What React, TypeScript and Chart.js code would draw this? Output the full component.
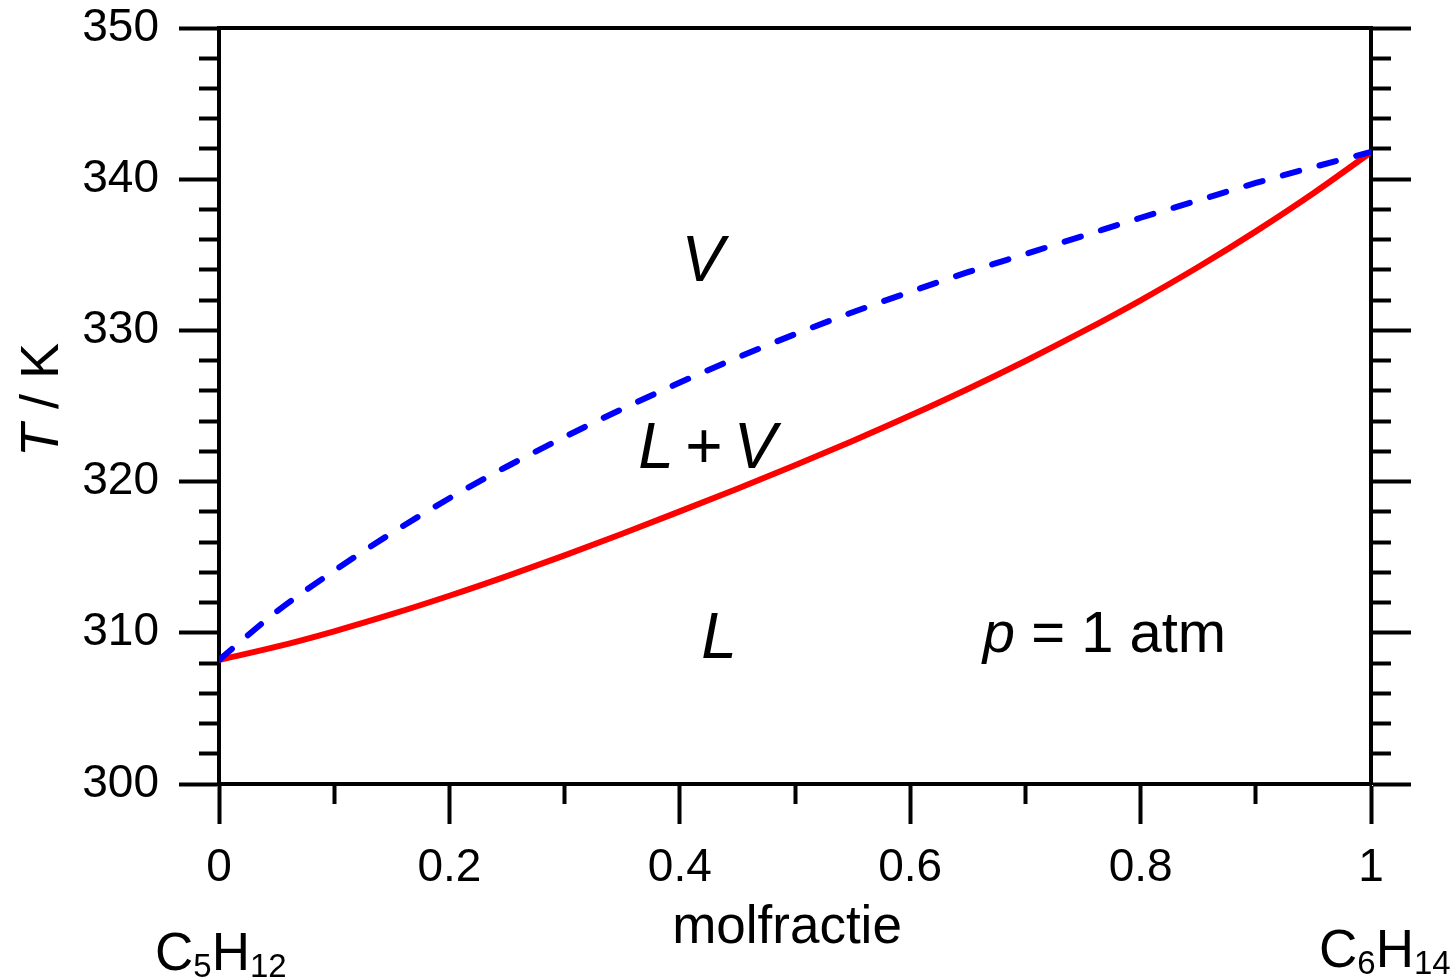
import React, { useEffect, useRef } from "react";
import { Chart, registerables } from "chart.js";

Chart.register(...registerables);

// ---- data ----
const molFraction = [0, 0.05, 0.1, 0.15, 0.2, 0.25, 0.3, 0.35, 0.4, 0.45, 0.5, 0.55, 0.6, 0.65, 0.7, 0.75, 0.8, 0.85, 0.9, 0.95, 1];
const liquidT = [308.2, 309.08, 310.1, 311.23, 312.45, 313.75, 315.12, 316.55, 318.03, 319.53, 321.08, 322.69, 324.37, 326.13, 327.98, 329.93, 331.99, 334.19, 336.55, 339.07, 341.78];
const vaporT = [308.2, 311.4, 314.1, 316.6, 318.9, 321.0, 322.95, 324.8, 326.55, 328.2, 329.75, 331.2, 332.55, 333.85, 335.05, 336.25, 337.45, 338.6, 339.75, 340.8, 341.8];

const xMajorTicks = [0, 0.2, 0.4, 0.6, 0.8, 1];
const xTickLabels = ["0", "0.2", "0.4", "0.6", "0.8", "1"];
const yMajorTicks = [300, 310, 320, 330, 340, 350];
const yTickLabels = ["300", "310", "320", "330", "340", "350"];

const FONT = "'Liberation Sans', Arial, Helvetica, sans-serif";

function majorIndex(v: number, majors: number[]) {
  return majors.findIndex((m) => Math.abs(m - v) < 1e-6);
}

function drawFormula(ctx: CanvasRenderingContext2D, parts: [string, boolean][], x: number, y: number, mainSize: number, subSize: number, subDrop: number) {
  let cx = x;
  for (const [t, sub] of parts) {
    ctx.font = `${sub ? subSize : mainSize}px ${FONT}`;
    ctx.fillText(t, cx, sub ? y + subDrop : y);
    cx += ctx.measureText(t).width;
  }
}

function fixPadding(s: any) {
  s.paddingTop = 0;
  s.paddingBottom = 0;
  s.paddingLeft = 0;
  s.paddingRight = 0;
}

const annotationPlugin = {
  id: "phaseAnnotations",
  afterDraw(chart: any) {
    const ctx: CanvasRenderingContext2D = chart.ctx;
    const xs = chart.scales.x;
    const ys = chart.scales.y;
    ctx.save();
    ctx.fillStyle = "#000";
    ctx.textBaseline = "alphabetic";

    // region labels
    ctx.font = `italic 64px ${FONT}`;
    ctx.textAlign = "center";
    ctx.fillText("V", xs.getPixelForValue(0.42), ys.getPixelForValue(333.3));

    const lvx = xs.getPixelForValue(0.42);
    const lvy = ys.getPixelForValue(320.9);
    ctx.textAlign = "right";
    ctx.fillText("L", lvx - 29, lvy);
    ctx.font = `64px ${FONT}`;
    ctx.textAlign = "center";
    ctx.fillText("+", lvx + 1, lvy);
    ctx.font = `italic 64px ${FONT}`;
    ctx.textAlign = "left";
    ctx.fillText("V", lvx + 31, lvy);

    ctx.textAlign = "center";
    ctx.fillText("L", xs.getPixelForValue(0.434), ys.getPixelForValue(308.33));

    // p = 1 atm
    const px = xs.getPixelForValue(0.663);
    const py = ys.getPixelForValue(308.73);
    ctx.textAlign = "left";
    ctx.font = `italic 58px ${FONT}`;
    ctx.fillText("p", px, py);
    const pw = ctx.measureText("p").width;
    ctx.font = `58px ${FONT}`;
    ctx.fillText(" = 1 atm", px + pw, py);

    // x-axis title
    ctx.font = `53px ${FONT}`;
    ctx.textAlign = "center";
    ctx.fillText("molfractie", 787, 943);

    // component formulas
    ctx.textAlign = "left";
    drawFormula(ctx, [["C", false], ["5", true], ["H", false], ["12", true]], 155, 970, 53, 33, 7);
    drawFormula(ctx, [["C", false], ["6", true], ["H", false], ["14", true]], 1319, 967, 53, 33, 7);

    // y-axis title (rotated)
    ctx.save();
    ctx.translate(58, 400);
    ctx.rotate(-Math.PI / 2);
    ctx.font = `italic 54px ${FONT}`;
    const tw = ctx.measureText("T").width;
    ctx.font = `54px ${FONT}`;
    const rw = ctx.measureText(" / K").width;
    const start = -(tw + rw) / 2;
    ctx.textAlign = "left";
    ctx.font = `italic 54px ${FONT}`;
    ctx.fillText("T", start, 0);
    ctx.font = `54px ${FONT}`;
    ctx.fillText(" / K", start + tw, 0);
    ctx.restore();

    ctx.restore();
  },
};

export default function App() {
  const canvasRef = useRef<HTMLCanvasElement | null>(null);

  useEffect(() => {
    if (!canvasRef.current) return;
    const tickFont = { family: FONT, size: 46 };

    const chart = new Chart(canvasRef.current, {
      type: "line",
      data: {
        datasets: [
          {
            label: "vapour",
            data: molFraction.map((x, i) => ({ x, y: vaporT[i] })),
            borderColor: "#0000ff",
            borderWidth: 6,
            borderDash: [17, 21],
            borderCapStyle: "round",
            pointRadius: 0,
            cubicInterpolationMode: "monotone",
            fill: false,
          },
          {
            label: "liquid",
            data: molFraction.map((x, i) => ({ x, y: liquidT[i] })),
            borderColor: "#ff0000",
            borderWidth: 6,
            pointRadius: 0,
            cubicInterpolationMode: "monotone",
            fill: false,
          },
        ],
      },
      options: {
        animation: false,
        responsive: false,
        devicePixelRatio: 1,
        layout: { padding: 0 },
        plugins: { legend: { display: false }, tooltip: { enabled: false } },
        scales: {
          x: {
            type: "linear",
            position: "bottom",
            min: 0,
            max: 1,
            afterFit: (s: any) => { s.height = 196; fixPadding(s); },
            ticks: {
              stepSize: 0.1,
              autoSkip: false,
              maxRotation: 0,
              minRotation: 0,
              padding: 17,
              color: "#000",
              font: tickFont,
              callback: (v: any) => {
                const i = majorIndex(Number(v), xMajorTicks);
                return i >= 0 ? xTickLabels[i] : "";
              },
            },
            grid: {
              drawOnChartArea: false,
              drawTicks: true,
              tickLength: 40,
              tickWidth: 4,
              tickColor: "#000",
              tickBorderDash: (c: any) => (majorIndex(c.tick.value, xMajorTicks) >= 0 ? [] : [18, 100]),
            },
            border: { display: true, color: "#000", width: 4 },
          },
          x2: {
            type: "linear",
            position: "top",
            min: 0,
            max: 1,
            afterFit: (s: any) => { s.height = 28; fixPadding(s); },
            ticks: { display: false },
            grid: { drawOnChartArea: false, drawTicks: false },
            border: { display: true, color: "#000", width: 4 },
          },
          y: {
            type: "linear",
            position: "left",
            min: 300,
            max: 350,
            afterFit: (s: any) => { s.width = 219; fixPadding(s); },
            ticks: {
              stepSize: 2,
              autoSkip: false,
              padding: 20,
              color: "#000",
              font: tickFont,
              callback: (v: any) => {
                const i = majorIndex(Number(v), yMajorTicks);
                return i >= 0 ? yTickLabels[i] : "";
              },
            },
            grid: {
              drawOnChartArea: false,
              drawTicks: true,
              tickLength: 40,
              tickWidth: 4,
              tickColor: "#000",
              tickBorderDash: (c: any) => (majorIndex(c.tick.value, yMajorTicks) >= 0 ? [] : [0, 20, 40, 100]),
            },
            border: { display: true, color: "#000", width: 4 },
          },
          y2: {
            type: "linear",
            position: "right",
            min: 300,
            max: 350,
            afterFit: (s: any) => { s.width = 83; fixPadding(s); },
            ticks: { stepSize: 2, autoSkip: false, display: false },
            grid: {
              drawOnChartArea: false,
              drawTicks: true,
              tickLength: 40,
              tickWidth: 4,
              tickColor: "#000",
              tickBorderDash: (c: any) => (majorIndex(c.tick.value, yMajorTicks) >= 0 ? [] : [18, 100]),
            },
            border: { display: true, color: "#000", width: 4 },
          },
        },
      } as any,
      plugins: [annotationPlugin],
    });

    return () => chart.destroy();
  }, []);

  return (
    <div style={{ position: "fixed", left: 0, top: 0, width: 1454, height: 980, background: "#fff" }}>
      <canvas ref={canvasRef} width={1454} height={980} style={{ display: "block" }} />
    </div>
  );
}
